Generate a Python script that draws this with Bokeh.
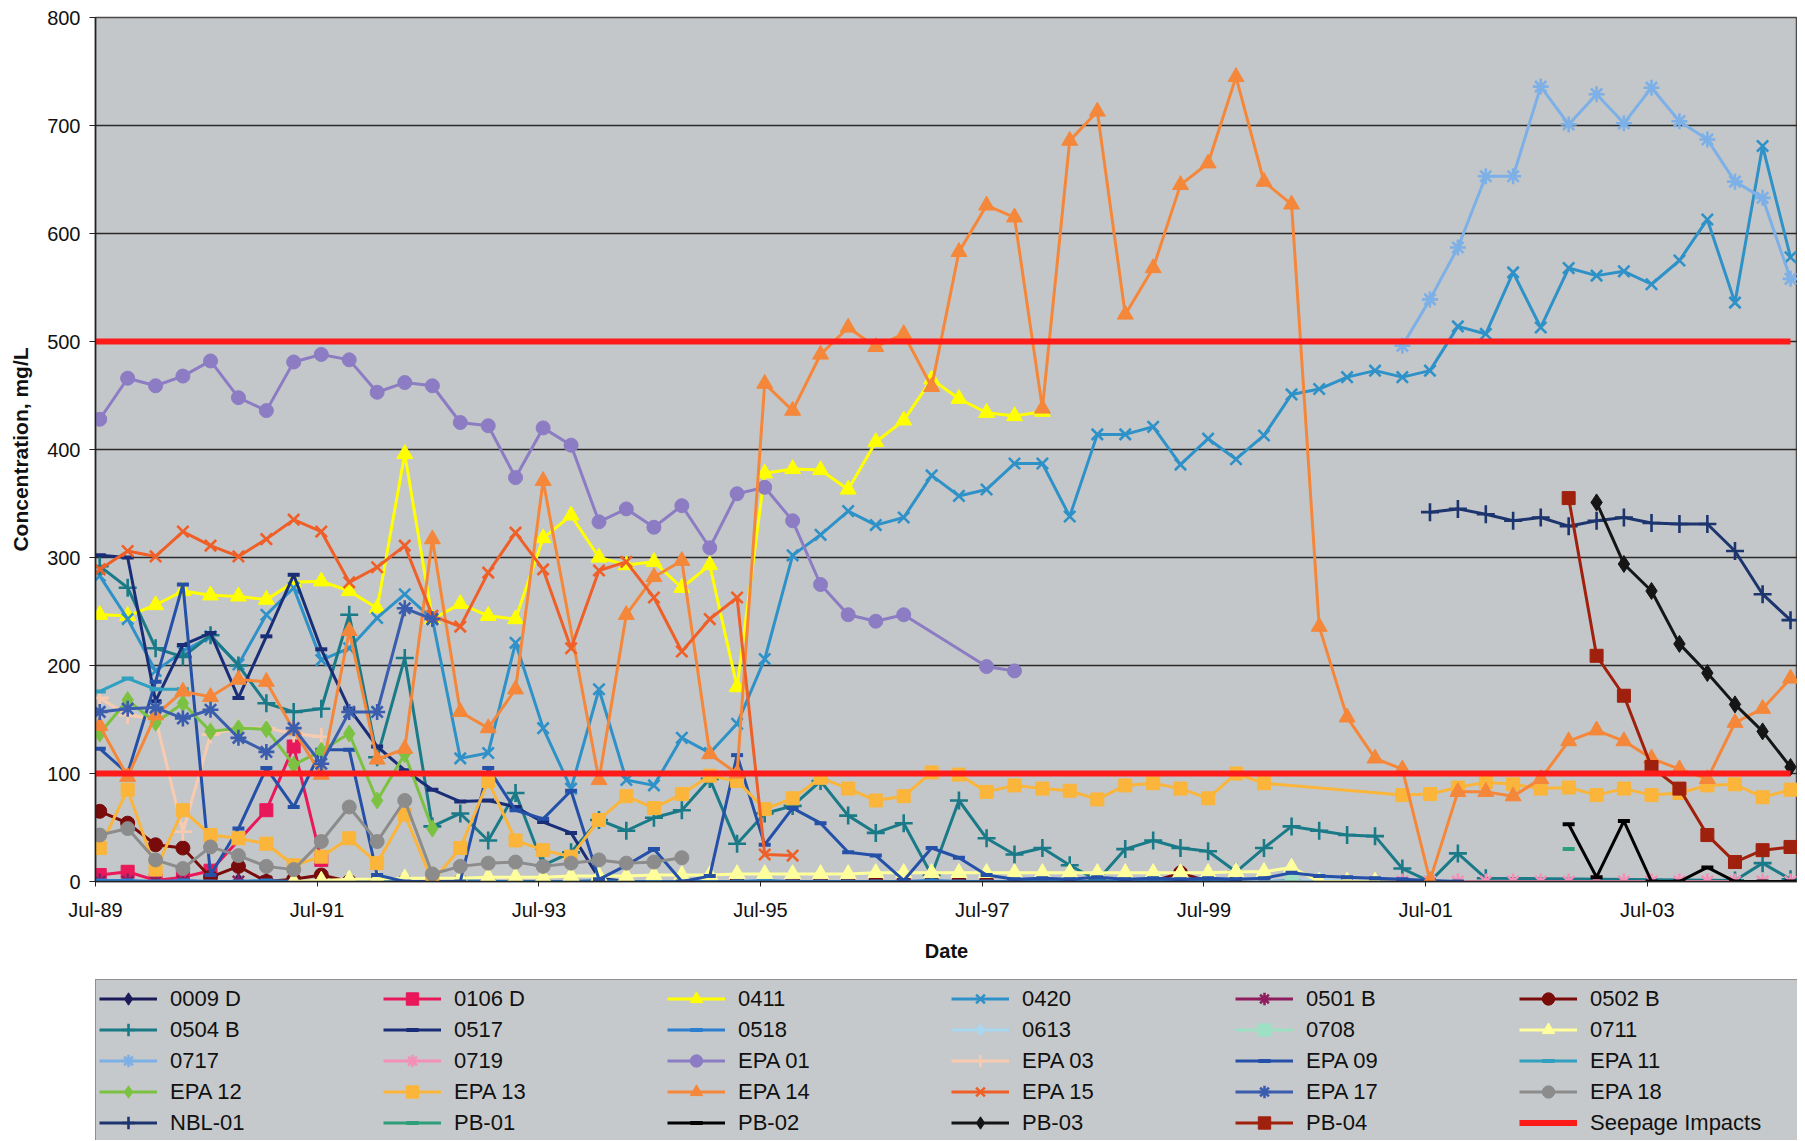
import pandas as pd
from datetime import datetime
from bokeh.plotting import figure
from bokeh.layouts import column
from bokeh.models import Range1d, FixedTicker, DatetimeTickFormatter, Legend, LegendItem
from bokeh.embed import file_html
from bokeh.resources import INLINE

# ---------------- data ----------------
dates = [
    "1989-07-15", "1989-10-15", "1990-01-15", "1990-04-15", "1990-07-15", "1990-10-15",
    "1991-01-15", "1991-04-15", "1991-07-15", "1991-10-15", "1992-01-15", "1992-04-15",
    "1992-07-15", "1992-10-15", "1993-01-15", "1993-04-15", "1993-07-15", "1993-10-15",
    "1994-01-15", "1994-04-15", "1994-07-15", "1994-10-15", "1995-01-15", "1995-04-15",
    "1995-07-15", "1995-10-15", "1996-01-15", "1996-04-15", "1996-07-15", "1996-10-15",
    "1997-01-15", "1997-04-15", "1997-07-15", "1997-10-15", "1998-01-15", "1998-04-15",
    "1998-07-15", "1998-10-15", "1999-01-15", "1999-04-15", "1999-07-15", "1999-10-15",
    "2000-01-15", "2000-04-15", "2000-07-15", "2000-10-15", "2001-01-15", "2001-04-15",
    "2001-07-15", "2001-10-15", "2002-01-15", "2002-04-15", "2002-07-15", "2002-10-15",
    "2003-01-15", "2003-04-15", "2003-07-15", "2003-10-15", "2004-01-15", "2004-04-15",
    "2004-07-15", "2004-10-15",
]
tick_dates = ["1989-07-01", "1991-07-01", "1993-07-01", "1995-07-01",
              "1997-07-01", "1999-07-01", "2001-07-01", "2003-07-01"]
y_ticks = [0, 100, 200, 300, 400, 500, 600, 700, 800]

# each series: values on the sampling dates starting at a given date index (None = not sampled)
s_0009D = [0, 0, 0, 0, 0, 0, 0, 0, 0, 0, 0, 0, 0, 0, 0, 0, 0, 0, 0, 0, 0, 0]
s_0106D = [6, 9, 1, 4, 10, None, 66, 125, 20]
s_0411 = [247, 246, 256, 269, 265, 264, 261, 277, 278, 269, 253, 396, 243, 257, 246, 243,
          318, 339, 300, 293, 296, 272, 293, 180, 378, 382, 381, 363, 407, 427, 465, 447,
          434, 431, 435]
s_0420 = [283, 243, 195, 213, 227, 201, 247, 272, 205, 216,
          244, 266, 243, 114, 119, 221, 142, 86, 178, 94,
          89, 133, 119, 146, 206, 302, 321, 343, 330, 337,
          376, 357, 363, 387, 387, 338, 414, 414, 421, 386,
          410, 391, 413, 451, 456, 467, 473, 467, 473, 514,
          507, 564, 513, 568, 561, 565, 553, 575, 613, 536,
          681, 578]
s_0501B = [0, 0, 0, 0, 0, 0, 0, 0, 0]
s_0502B = [65, 54, 34, 31, 4, 14, 0, 2, 6, 0, 0, 0, 0, 0, 0, 0, 0, 0, 0, 0, 0, 0,
           0, 0, 0, 0, 0, 0, 0, 0, 0, 0, 0, 0, 0, 0, 0, 0, 0, 8, 0, 0, 0]
s_0504B = [292, 272, 216, 208, 228, 200, 165, 157, 160, 247, 115, 207, 51, 63, 38, 82,
           15, 27, 57, 47, 59, 66, 95, 35, 63, 70, 93, 61, 45, 54, 6, 75, 40, 25, 31,
           15, 1, 30, 38, 31, 28, 9, 31, 51, 47, 43, 42, 12, 0, 26, 3,
           None, None, None, None, None, None, None, None, 1, 17, 2]
s_0517 = [302, 300, 167, 219, 230, 170, 227, 284, 215, 160, 125, 103, 85, 74, 75, 69,
          55, 45, 3, 0, 0, 0, 0, 0]
s_0518 = [1, 1, 0, 1, 0, 0, 1, 0, 0, 1, 0, 0, 0, 1, 0, 0, 0, 0, 1, 0, 0, 0, 0, 0, 1,
          0, 0, 0, 0, 0, 1, 0, 0, 0, 0, 0, 0, 1, 0, 0, 0, 0, 0, 1, 0, 0]
s_0613 = [0, 1, 0, 2, 0]
s_0708 = [3]
s_0711 = [0, 1, 2, 2, 3, 3, 3, 4, 4, 4, 5, 5, 5, 6, 6, 6, 7, 7, 7, 7, 7, 8, 8, 8, 8,
          8, 8, 8, 8, 8, 8, 8, 8, 8, 9, 9, 13, 0, 0, 0]
s_0717 = [496, 539, 587, 653, 653, 736, 701, 729, 702, 735, 704, 687, 648, 633, 558]
s_0719 = [0, 0, 0, 0, 0, 0, 0, 0, 0, 0, 0, 0, 0, 0, 0]
s_EPA01 = [428, 466, 459, 468, 482, 448, 436, 481, 488, 483, 453, 462, 459, 425, 422,
           374, 420, 404, 333, 345, 328, 348, 309, 359, 365, 334, 275, 247, 241, 247,
           None, None, 199, 195]
s_EPA03 = [170, 154, 151, 46, 136, 142, 142, 137, 134]
s_EPA09 = [123, 100, 185, 275, 6, 49, 105, 69, 122, 122, 6, 0, 0, 0, 105, 66, 58, 84,
           2, 15, 30, 0, 5, 117, 34, 68, 54, 27, 24, 1, 31, 22, 6, 2, 3, 2, 4, 2, 3,
           2, 3, 2, 3, 8, 5, 4, 3, 2, 1, 0]
s_EPA11 = [176, 188, 178, 178]
s_EPA12 = [137, 168, 147, 165, 139, 142, 141, 108, 121, 137, 75, 118, 49]
s_EPA13 = [31, 85, 11, 66, 43, 40, 35, 15, 23, 40,
           17, 62, 0, 31, 93, 38, 29, 23, 57, 79,
           68, 81, 98, 93, 67, 77, 96, 86, 75, 79,
           101, 99, 83, 89, 86, 84, 76, 89, 91, 86,
           77, 100, 91, None, None, None, None,
           80, 81, 87, 92, 90, 86, 87, 80, 86, 80, 82, 89, 90, 78, 85]
s_EPA14 = [144, 97, 154, 176, 171, 187, 185, 140, 99, 232,
           113, 123, 317, 157, 142, 178, 371, None, 94, 247,
           282, 297, 118, 100, 461, 436, 488, 513, 495, 507,
           458, 583, 626, 615, 438, 686, 713, 525, 568, 645,
           665, 745, 648, 627, 236, 152, 114, 104, 1, 83,
           83, 79, 95, 130, 140, 130, 114, 104, 95, 147,
           160, 188]
s_EPA15 = [289, 306, 301, 324, 311, 301, 317, 335, 324, 277, 291, 311, 246, 236, 286,
           323, 289, 216, 288, 296, 263, 213, 243, 263, 25, 24]
s_EPA17 = [157, 160, 161, 151, 159, 133, 120, 142, 109, 157, 157, 253, 243]
s_EPA18 = [43, 49, 20, 12, 32, 24, 14, 11, 37, 69, 37, 75, 7, 14, 17, 18, 14, 17, 20,
           17, 18, 22]
s_NBL01 = [342, 345, 340, 334, 337, 329, 334, 337, 332, 331, 331, 306, 266, 242]
s_PB01 = [30]
s_PB02 = [53, 4, 56, 0, 0, 13, 0, 0, 0]
s_PB03 = [351, 294, 269, 220, 193, 164, 139, 106]
s_PB04 = [355, 209, 172, 106, 86, 43, 18, 29, 32]

seepage_dates = ["1989-07-01", "2004-10-15"]
seepage_upper = [500, 500]
seepage_lower = [100, 100]

# (label, first date index, values, colour, marker)
series = [
    ("0009 D", 0, s_0009D, "#1B1B5A", "diamond"),
    ("0106 D", 0, s_0106D, "#E8185A", "square"),
    ("0411", 0, s_0411, "#FFFF00", "triangle"),
    ("0420", 0, s_0420, "#2E92C8", "x"),
    ("0501 B", 0, s_0501B, "#8E1D5E", "asterisk"),
    ("0502 B", 0, s_0502B, "#7A0B0B", "circle"),
    ("0504 B", 0, s_0504B, "#1A7A88", "cross"),
    ("0517", 0, s_0517, "#1A2E78", "dash"),
    ("0518", 0, s_0518, "#2A7FD0", "dash"),
    ("0613", 41, s_0613, "#A8D8F0", "diamond"),
    ("0708", 43, s_0708, "#9EE0C4", "square"),
    ("0711", 7, s_0711, "#FFFF9C", "triangle"),
    ("0717", 47, s_0717, "#7CB0E6", "asterisk"),
    ("0719", 47, s_0719, "#F490B8", "asterisk"),
    ("EPA 01", 0, s_EPA01, "#8C7CC4", "circle"),
    ("EPA 03", 0, s_EPA03, "#F8CBB0", "cross"),
    ("EPA 09", 0, s_EPA09, "#2450A8", "dash"),
    ("EPA 11", 0, s_EPA11, "#30A0C0", "dash"),
    ("EPA 12", 0, s_EPA12, "#7CC242", "diamond"),
    ("EPA 13", 0, s_EPA13, "#FAB53A", "square"),
    ("EPA 14", 0, s_EPA14, "#F5873A", "triangle"),
    ("EPA 15", 0, s_EPA15, "#EF5F28", "x"),
    ("EPA 17", 0, s_EPA17, "#3B5DAE", "asterisk"),
    ("EPA 18", 0, s_EPA18, "#8C8C8C", "circle"),
    ("NBL-01", 48, s_NBL01, "#1C356E", "cross"),
    ("PB-01", 53, s_PB01, "#2E9E78", "dash"),
    ("PB-02", 53, s_PB02, "#000000", "dash"),
    ("PB-03", 54, s_PB03, "#151515", "diamond"),
    ("PB-04", 53, s_PB04, "#A0200E", "square"),
]

FONT = "Liberation Sans"
marker_size = {"circle": 14, "square": 13, "triangle": 16, "diamond": 17,
               "x": 16, "asterisk": 16, "cross": 18, "dash": 12}
line_markers = {"x", "asterisk", "cross", "dash"}

# ---------------- main chart ----------------
p = figure(width=1797, height=968, x_axis_type="datetime",
           output_backend="svg", toolbar_location=None,
           x_range=Range1d(datetime(1989, 7, 1), datetime(2004, 11, 7)),
           y_range=Range1d(0, 800),
           min_border_left=95, min_border_right=0, min_border_top=17, min_border_bottom=87)

p.background_fill_color = "#C4C7C9"
p.border_fill_color = "white"
p.outline_line_color = "#4a4a4a"
p.outline_line_width = 1.5

p.xgrid.visible = False
p.ygrid.ticker = FixedTicker(ticks=y_ticks)
p.ygrid.grid_line_color = "#2a2a2a"
p.ygrid.grid_line_width = 1.3

p.yaxis.ticker = FixedTicker(ticks=y_ticks)
p.xaxis.ticker = FixedTicker(ticks=[pd.Timestamp(d).value // 10**6 for d in tick_dates])
fmt = "%b-%y"
p.xaxis.formatter = DatetimeTickFormatter(
    microseconds=fmt, milliseconds=fmt, seconds=fmt, minsec=fmt, minutes=fmt,
    hourmin=fmt, hours=fmt, days=fmt, months=fmt, years=fmt)

for ax in (p.xaxis[0], p.yaxis[0]):
    ax.axis_line_color = "#222222"
    ax.axis_line_width = 1.5
    ax.major_tick_line_color = "#222222"
    ax.major_tick_in = 0
    ax.minor_tick_line_color = None
    ax.major_label_text_font = FONT
    ax.major_label_text_font_size = "20px"
    ax.major_label_text_color = "#111111"
    ax.axis_label_text_font = FONT
    ax.axis_label_text_font_style = "bold"
    ax.axis_label_text_color = "#111111"

p.yaxis.major_tick_out = 6
p.yaxis.major_label_standoff = 9
p.yaxis.axis_label = "Concentration, mg/L"
p.yaxis.axis_label_text_font_size = "21px"
p.yaxis.axis_label_standoff = 12

p.xaxis.major_tick_out = 5
p.xaxis.major_label_standoff = 12
p.xaxis.axis_label = "Date"
p.xaxis.axis_label_text_font_size = "20px"
p.xaxis.axis_label_standoff = 16

# ---------------- legend strip below the chart ----------------
q = figure(width=1797, height=172, output_backend="svg", toolbar_location=None,
           x_range=Range1d(0, 1), y_range=Range1d(0, 1),
           min_border_left=77, min_border_right=0, min_border_top=11, min_border_bottom=0)
q.axis.visible = False
q.grid.visible = False
q.outline_line_color = None
q.background_fill_color = "white"
q.border_fill_color = "white"


def style_kwargs(color, marker):
    if marker in line_markers:
        return dict(marker=marker, size=marker_size[marker], line_color=color,
                    line_width=4 if marker == "dash" else 2.6)
    return dict(marker=marker, size=marker_size[marker], fill_color=color,
                line_color=color, line_width=1)


items = []
for label, start, values, color, marker in series:
    xs, ys = [], []
    for i, v in enumerate(values):
        if v is None:
            continue
        xs.append(pd.Timestamp(dates[start + i]))
        ys.append(v)
    p.line(xs, ys, line_color=color, line_width=3)
    p.scatter(xs, ys, **style_kwargs(color, marker))
    # legend proxies: same styling, first sample (lies far outside the legend strip's range)
    lx = [xs[0].value // 10**6]
    lr = q.line(lx, ys[:1], line_color=color, line_width=3)
    sr = q.scatter(lx, ys[:1], **style_kwargs(color, marker))
    items.append(LegendItem(label=label, renderers=[lr, sr]))

sx = [pd.Timestamp(d) for d in seepage_dates]
p.line(sx, seepage_upper, line_color="#FF1A1A", line_width=6)
p.line(sx, seepage_lower, line_color="#FF1A1A", line_width=6)
lr = q.line([sx[0].value // 10**6], seepage_upper[:1], line_color="#FF1A1A", line_width=6)
items.append(LegendItem(label="Seepage Impacts", renderers=[lr]))

legend = Legend(items=items, orientation="horizontal", ncols=6,
                location="top_left", margin=0, padding=3, spacing=0,
                glyph_width=58, glyph_height=31, label_height=31, label_width=213,
                label_standoff=13,
                label_text_font=FONT, label_text_font_size="22px",
                label_text_color="#111111",
                background_fill_color="#C6C9CB", background_fill_alpha=1.0,
                border_line_color="#555555", border_line_width=1.5)
q.add_layout(legend, "center")

layout = column(p, q, spacing=0)
open("out.html", "w").write(file_html(layout, INLINE))
